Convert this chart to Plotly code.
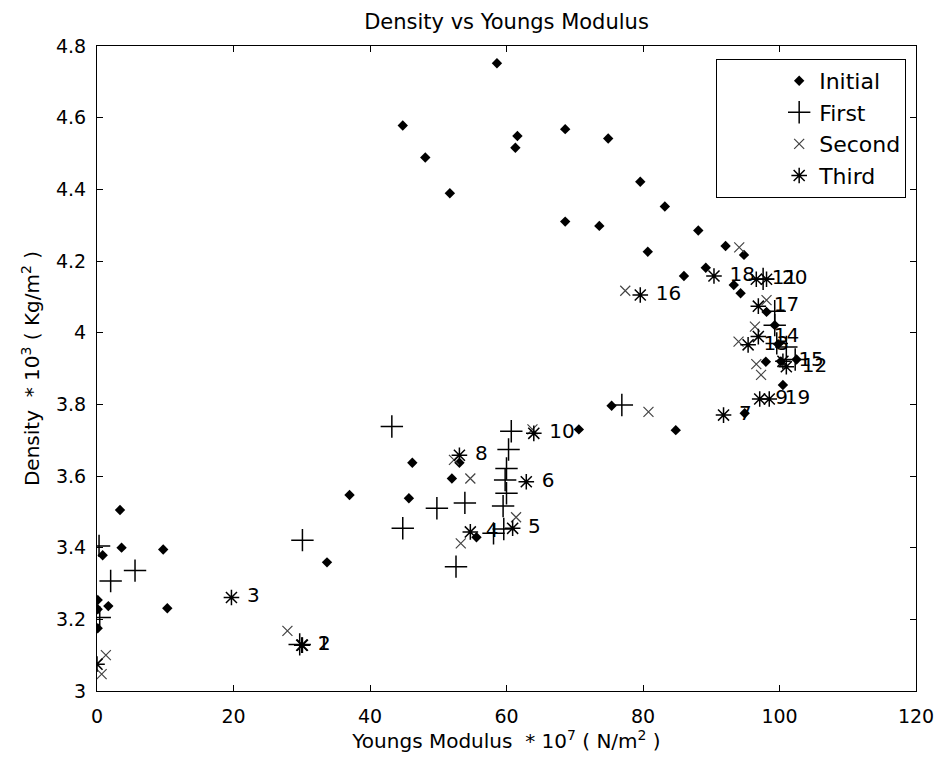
import plotly.graph_objects as go

# ---- data ----
initial_x = [58.6, 44.8, 48.1, 51.7, 61.6, 61.3, 68.6, 74.9, 79.6, 83.2, 68.6, 73.6,
             88.1, 92.1, 94.8, 80.7, 86.0, 89.2, 93.3, 94.3, 98.1, 99.3, 99.8, 100.2,
             102.5, 98.0, 100.5, 75.4, 84.8, 70.6, 94.9,
             46.2, 53.1, 52.0, 45.7, 55.6, 37.0, 33.7,
             3.37, 3.6, 0.83, 9.7, 1.66, 10.3, 0.1, 0.1, 0.1]
initial_y = [4.752, 4.578, 4.489, 4.389, 4.549, 4.516, 4.568, 4.542, 4.421, 4.352, 4.310, 4.298,
             4.285, 4.242, 4.217, 4.226, 4.158, 4.181, 4.133, 4.110, 4.058, 4.021, 3.968, 3.920,
             3.925, 3.919, 3.854, 3.796, 3.728, 3.730, 3.775,
             3.637, 3.637, 3.593, 3.538, 3.429, 3.547, 3.359,
             3.505, 3.400, 3.379, 3.395, 3.237, 3.231, 3.254, 3.228, 3.175]

first_x = [43.2, 60.7, 60.3, 60.0, 59.8, 60.0, 59.5, 49.8, 53.9, 44.8, 58.1, 59.6,
           52.6, 30.1, 5.57, 2.0, 0.4, 0.3, 29.7, 76.9,
           99.3, 99.3, 99.6, 101.0, 102.3, 97.6]
first_y = [3.738, 3.725, 3.674, 3.621, 3.589, 3.552, 3.516, 3.510, 3.525, 3.454, 3.440, 3.452,
           3.347, 3.421, 3.336, 3.307, 3.205, 3.405, 3.130, 3.798,
           4.060, 4.021, 3.970, 3.960, 3.925, 4.150]

second_x = [0.68, 1.3, 27.9, 53.3, 61.4, 54.7, 52.3, 63.8, 77.4, 80.8, 94.1, 98.1,
            96.4, 94.0, 96.6, 97.3]
second_y = [3.047, 3.100, 3.168, 3.412, 3.485, 3.593, 3.645, 3.730, 4.117, 3.779, 4.238, 4.091,
            4.017, 3.975, 3.912, 3.882]

third_labels = ["", "1", "2", "3", "4", "5", "6", "7", "8", "9", "10",
                "11", "12", "13", "14", "15", "16", "17", "18", "19", "20"]
third_x = [0.0, 30.0, 30.1, 19.7, 54.7, 60.9, 62.9, 91.8, 53.1, 97.1, 64.0,
           96.6, 101.0, 95.4, 96.9, 100.5, 79.6, 96.9, 90.4, 98.5, 98.1]
third_y = [3.075, 3.128, 3.128, 3.261, 3.444, 3.454, 3.584, 3.770, 3.658, 3.815, 3.719,
           4.149, 3.905, 3.966, 3.989, 3.920, 4.105, 4.074, 4.158, 3.815, 4.149]

x_ticks = [0, 20, 40, 60, 80, 100, 120]
y_ticks = [3, 3.2, 3.4, 3.6, 3.8, 4, 4.2, 4.4, 4.6, 4.8]
y_tick_text = ["3", "3.2", "3.4", "3.6", "3.8", "4", "4.2", "4.4", "4.6", "4.8"]

FONT = "DejaVu Sans"

fig = go.Figure()
fig.add_trace(go.Scatter(x=initial_x, y=initial_y, mode="markers", name="Initial",
                         marker=dict(symbol="diamond", size=8, color="black",
                                     line=dict(width=0))))
fig.add_trace(go.Scatter(x=first_x, y=first_y, mode="markers", name="First",
                         marker=dict(symbol="cross-thin-open", size=16, color="black",
                                     line=dict(width=1.5, color="black"))))
fig.add_trace(go.Scatter(x=second_x, y=second_y, mode="markers", name="Second",
                         marker=dict(symbol="x-thin-open", size=10, color="#444444",
                                     line=dict(width=1.2, color="#444444"))))
fig.add_trace(go.Scatter(x=third_x, y=third_y, mode="markers+text", name="Third",
                         text=[" " + t for t in third_labels], textposition="middle right",
                         textfont=dict(family=FONT, size=20, color="black"),
                         marker=dict(symbol="asterisk-open", size=13, color="black",
                                     line=dict(width=1.5, color="black"))))

axis_common = dict(showline=True, linecolor="black", linewidth=1, mirror="ticks",
                   ticks="inside", ticklen=6, tickcolor="black", tickwidth=1,
                   showgrid=False, zeroline=False,
                   tickfont=dict(family=FONT, size=19, color="black"))

fig.update_xaxes(range=[0, 120], tickvals=x_ticks, ticklabelstandoff=8,
                 title=dict(text="Youngs Modulus  * 10<sup>7</sup> ( N/m<sup>2</sup> )",
                            font=dict(family=FONT, size=20, color="black"), standoff=8),
                 **axis_common)
fig.update_yaxes(range=[3, 4.8], tickvals=y_ticks, ticktext=y_tick_text, ticklabelstandoff=6,
                 title=dict(text="Density  * 10<sup>3</sup> ( Kg/m<sup>2</sup> )",
                            font=dict(family=FONT, size=20, color="black"), standoff=10),
                 **axis_common)

fig.update_layout(
    width=939, height=769,
    margin=dict(l=97, r=23, t=46, b=78, autoexpand=False),
    plot_bgcolor="white", paper_bgcolor="white",
    font=dict(family=FONT, color="black"),
    title=dict(text="Density vs Youngs Modulus", x=0.5, xref="paper",
               y=1 - 22 / 769, yref="container", yanchor="middle",
               font=dict(family=FONT, size=21, color="black")),
    legend=dict(x=0.988, y=0.98, xanchor="right", yanchor="top",
                bordercolor="black", borderwidth=1, bgcolor="white",
                font=dict(family=FONT, size=22, color="black"),
                indentation=62),
    showlegend=True,
)

fig.write_html("out.html")
